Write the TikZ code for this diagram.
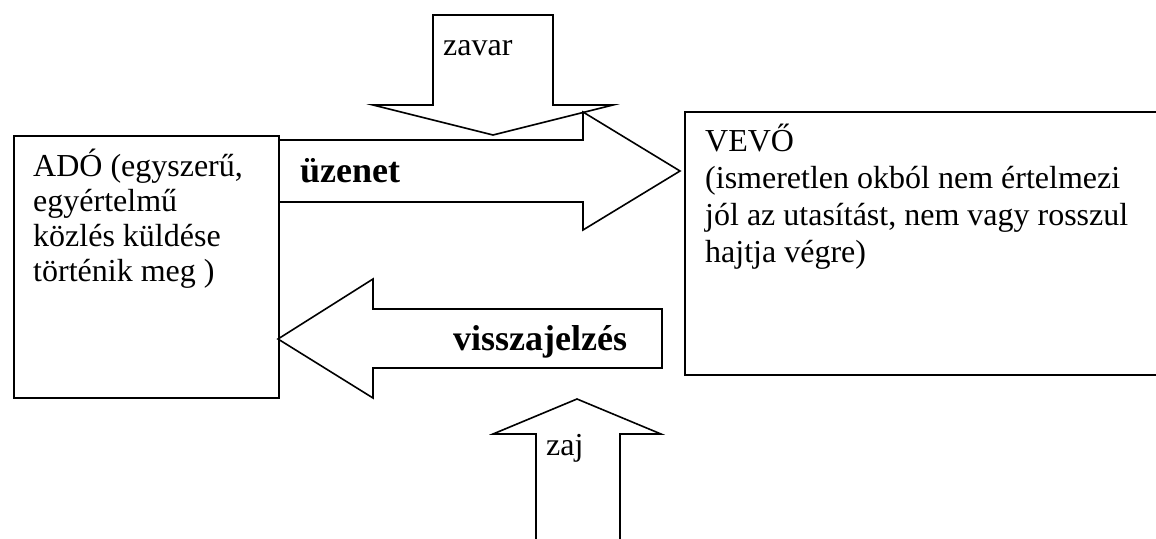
\documentclass[tikz,border=0pt]{standalone}
\usepackage{fontspec}
\setmainfont{Liberation Serif}
\begin{document}
\begin{tikzpicture}[x=1pt,y=-1pt,
  line/.style={line width=1.6pt, line join=miter},
  boxnode/.style={draw, line width=1.6pt, inner sep=0pt, anchor=north west},
  txt/.style={anchor=base west, inner sep=0pt, font=\fontsize{32}{36}\selectfont},
  boldtxt/.style={anchor=base west, inner sep=0pt, font=\fontsize{36}{40}\selectfont\bfseries}]
\clip (0,0) rectangle (1156,538);
\fill[white] (0,0) rectangle (1156,538);

% ADO box
\node[boxnode, minimum width=265pt, minimum height=262pt] (ado) at (13,135) {};
\node[txt] (ado1) at (33,176) {ADÓ (egyszerű,};
\node[txt] (ado2) at (33,211) {egyértelmű};
\node[txt] (ado3) at (33,246) {közlés küldése};
\node[txt] (ado4) at (33,281) {történik meg )};

% VEVO box (right edge outside the picture)
\draw[line] (1170,112) -- (685,112) -- (685,375) -- (1170,375);
\coordinate (vevo) at (685,243);
\node[txt] (vevo1) at (705,151) {VEVŐ};
\node[txt] (vevo2) at (705,188) {(ismeretlen okból nem értelmezi};
\node[txt] (vevo3) at (705,225) {jól az utasítást, nem vagy rosszul};
\node[txt] (vevo4) at (705,262) {hajtja végre)};

% uzenet arrow
\draw[line] (278,140) -- (583,140) -- (583,112) -- (680,171) -- (583,230) -- (583,202) -- (278,202);
\node[boldtxt] (uzenet) at (300,182) {üzenet};

% zavar arrow
\draw[line] (433,15) -- (553,15) -- (553,105) -- (613,105) -- (493,135) -- (373,105) -- (433,105) -- cycle;
\node[txt] (zavar) at (443,55) {zavar};

% visszajelzes arrow
\draw[line] (278,339) -- (373,279) -- (373,309) -- (662,309) -- (662,368) -- (373,368) -- (373,398) -- cycle;
\node[boldtxt] (vissza) at (453,350) {visszajelzés};

% zaj arrow
\draw[line] (536,560) -- (536,434) -- (493,434) -- (577,399) -- (661,434) -- (620,434) -- (620,560);
\node[txt] (zaj) at (546,455) {zaj};
\end{tikzpicture}
\end{document}
